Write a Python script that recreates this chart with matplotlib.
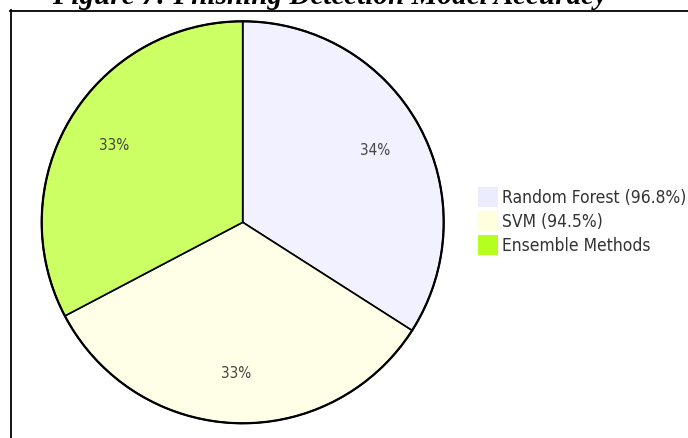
import matplotlib
matplotlib.use("Agg")
import matplotlib.pyplot as plt
from matplotlib.patches import Rectangle
from matplotlib.lines import Line2D

# data
labels = ["Random Forest (96.8%)", "SVM (94.5%)", "Ensemble Methods"]
values = [96.8, 94.5, 93.0]
slice_colors = ["#F1F1FF", "#FFFFE8", "#CBFF63"]
swatch_colors = ["#ECECFF", "#FFFFDE", "#B5FF20"]
title = "Figure 7: Phishing Detection Model Accuracy"

W, H = 688, 439
fig = plt.figure(figsize=(W / 100, H / 100), dpi=100)

def fx(x):
    return x / W

def fy(y):
    return 1 - y / H

# outer frame (only top and left edges are visible)
fig.add_artist(Line2D([fx(10), fx(W)], [fy(11.5), fy(11.5)], color="black", lw=1.3))
fig.add_artist(Line2D([fx(10.5), fx(10.5)], [fy(11), fy(H)], color="black", lw=1.3))

# title, mostly cut off at the top
fig.text(fx(330), fy(4), title, ha="center", va="baseline",
         family="Liberation Serif", weight="bold", style="italic", fontsize=21)

# pie
cx, cy, r = 242.7, 223.3, 203
ax = fig.add_axes([fx(cx - r), fy(cy + r), 2 * r / W, 2 * r / H])
wedges, texts, autotexts = ax.pie(
    values, colors=slice_colors, startangle=90, counterclock=False,
    autopct="%1.0f%%", pctdistance=0.75, radius=1,
    wedgeprops=dict(edgecolor="black", linewidth=1.2),
    textprops=dict(color="#444444", fontsize=11, family="DejaVu Sans",
                   fontstretch="condensed"))
# thicker outer rim
ax.add_artist(plt.Circle((0, 0), 1, fill=False, edgecolor="black", linewidth=1.6))
ax.set_xlim(-1.01, 1.01)
ax.set_ylim(-1.01, 1.01)
ax.set_aspect("equal")
ax.axis("off")

# legend
lx, ly0, step, sw = 478, 188, 24, 20
for i, (lab, col) in enumerate(zip(labels, swatch_colors)):
    y = ly0 + i * step
    fig.add_artist(Rectangle((fx(lx), fy(y + sw)), sw / W, sw / H,
                             facecolor=col, edgecolor="none"))
    fig.text(fx(502), fy(y + sw / 2), lab, ha="left", va="center",
             fontsize=12.5, color="#333333", family="DejaVu Sans",
             fontstretch="condensed")

fig.savefig("out.png", dpi=100)
